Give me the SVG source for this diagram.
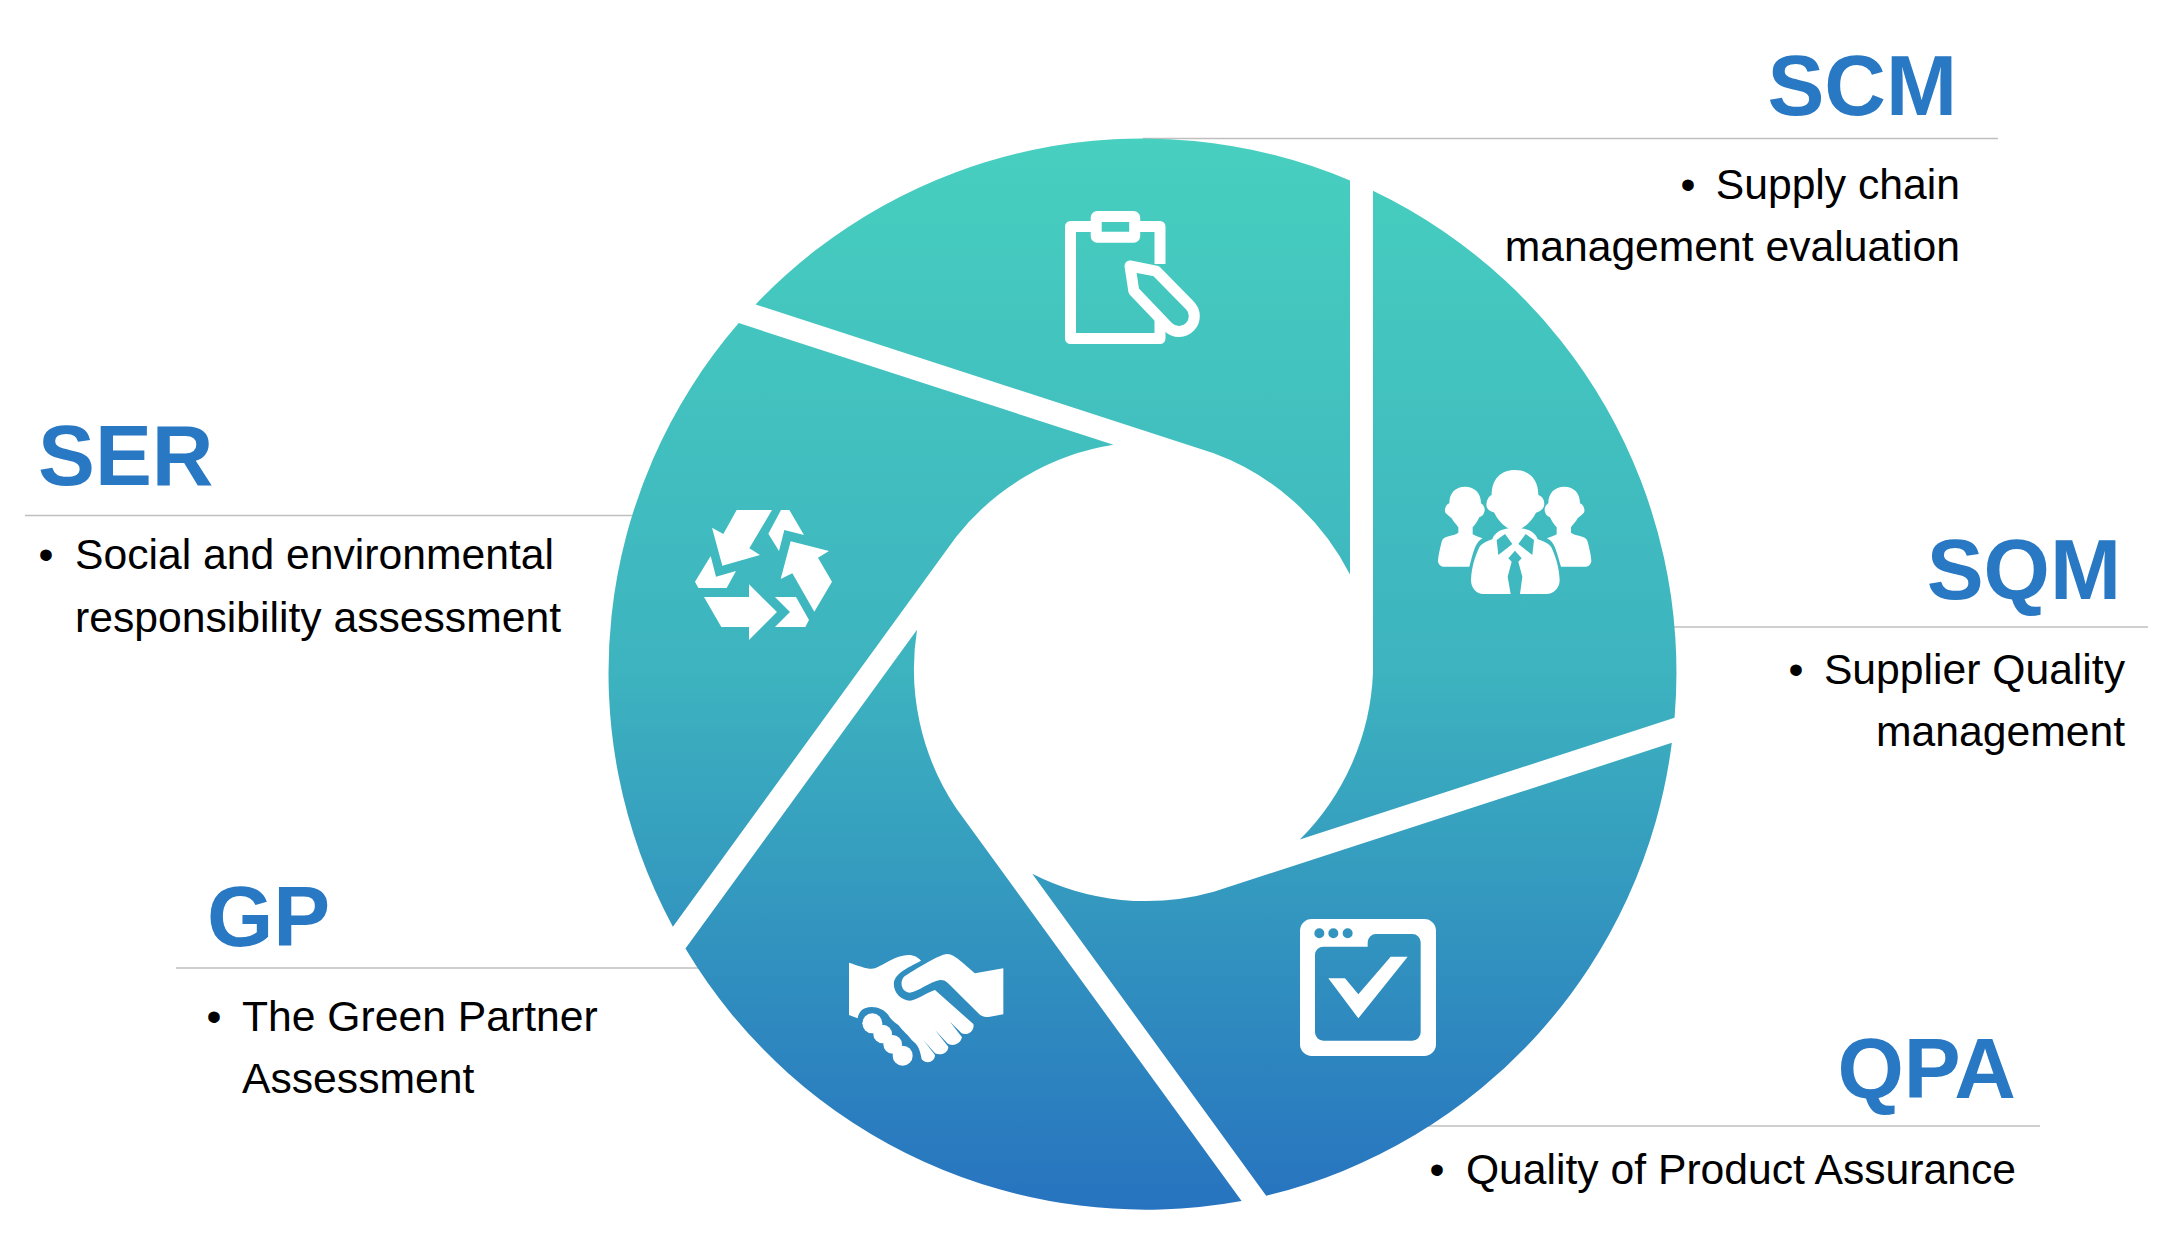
<svg xmlns="http://www.w3.org/2000/svg" width="2170" height="1255" viewBox="0 0 2170 1255">
<style>
.h{font:bold 85.33px "Liberation Sans",Arial,sans-serif;fill:#2878c3}
.b{font:42.67px "Liberation Sans",Arial,sans-serif;fill:#000}
.e{text-anchor:end}
.m{text-anchor:middle}
.rule{stroke:#bfbfbf;stroke-width:1.5;fill:none}
.blade{fill:url(#g)}
.ic{fill:#fff}
.ln{fill:none;stroke:#fff;stroke-width:11;stroke-linejoin:round}
</style>
<defs>
<linearGradient id="g" gradientUnits="userSpaceOnUse" x1="0" y1="138" x2="0" y2="1209">
<stop offset="0" stop-color="#47cfbf"/><stop offset=".5" stop-color="#3db3bf"/><stop offset="1" stop-color="#2773bf"/>
</linearGradient>
</defs>
<rect width="2170" height="1255" fill="#fff"/>
<g id="connectors">
<path class="rule" d="M1143 138.500H1998"/>
<path class="rule" d="M1660 627H2148"/>
<path class="rule" d="M1400 1126H2040"/>
<path class="rule" d="M176 968H720"/>
<path class="rule" d="M25 515.500H650"/>
</g>
<g id="disc">
<path class="blade" id="blade-top" d="M1350 180.500V574.500A250 250 0 0 0 1213.730 453.280L755.600 304.420A534 534 0 0 1 1350 180.500Z"/>
<path class="blade" id="blade-right" d="M1373 190.800V672.500A250 250 0 0 1 1299.820 839.560L1674.540 717.800A534 534 0 0 0 1373 190.800Z"/>
<path class="blade" id="blade-bottom-right" d="M1671.860 742.860L1213.730 891.720A250 250 0 0 1 1032.240 873.750L1266.200 1195.800A536 536 0 0 0 1671.860 742.860Z"/>
<path class="blade" id="blade-bottom-left" d="M1241.600 1201L956.020 807.990A250 250 0 0 1 917.020 629.810L685.440 948.580A536 536 0 0 0 1241.600 1201Z"/>
<path class="blade" id="blade-left" d="M672.880 926.720L956.020 537.010A250 250 0 0 1 1113.420 444.870L738.700 323.120A534 534 0 0 0 672.880 926.720Z"/>
</g>
<g id="icon-clipboard">
<path class="ln" d="M1160 264V226.500H1135M1096 226.500H1070.500V338.500H1160V318"/>
<rect class="ln" x="1096.200" y="216.500" width="38.500" height="20.700" rx="1"/>
<path class="ln" d="M1130 266L1156.200 271.100L1189.600 305.100A15.300 15.300 0 0 1 1168.400 327.200L1133.800 291Z"/>
</g>
<g id="icon-people" transform="translate(1400 440) scale(.33333)">
<path class="ic" d="M345 90C300 90 275 120 275 165C262 170 255 195 262 205C268 215 278 215 283 218C292 238 310 258 330 268L360 268C380 258 398 238 408 218C415 215 428 212 432 198C436 180 425 168 415 165C415 120 390 90 345 90Z"/>
<path class="ic" fill-rule="evenodd" d="M213 420C215 380 225 350 238 322C245 310 265 302 277 298C280 285 295 270 318 266L345 262L372 266C395 270 410 285 413 298C425 302 447 310 454 322C467 350 477 380 479 420C479 445 460 462 440 462H250C230 462 213 445 213 420ZM290 300L315 282L337 312L295 345ZM402 300L377 282L355 312L397 345ZM325 355L345 332L365 355L355 365L367 410L360 462H332L323 410L335 365Z"/>
<path class="ic" d="M195 140C165 140 148 160 148 190C135 195 130 215 140 222C146 228 150 230 155 235C160 245 170 255 175 262V278C160 290 130 285 125 305C120 325 115 345 114 362C114 372 122 380 132 380H208C215 355 222 320 235 305C240 300 245 297 248 295C235 290 225 288 218 283V262C225 255 232 245 238 232C245 228 250 226 252 218C258 205 250 195 243 190C243 160 225 140 195 140Z"/>
<path class="ic" d="M493 140C523 140 540 160 540 190C553 195 558 215 548 222C542 228 538 230 533 235C528 245 518 255 513 262V278C528 290 558 285 563 305C568 325 573 345 574 362C574 372 566 380 556 380H483C475 355 468 320 455 305C450 300 445 297 440 295C453 290 463 288 470 283V262C463 255 456 245 450 232C443 228 438 226 436 218C430 205 438 195 445 190C445 160 463 140 493 140Z"/>
</g>
<g id="icon-recycle" class="ic" transform="translate(680 490) scale(.33333)">
<polygon points="170,60 276,60 208,175 240,195 127,227 96,113 130,132"/>
<polygon points="303,60 328,60 372,135 313,120 297,183 265,131"/>
<polygon points="332,154 447,183 414,203 456,275 403,365 337,250 302,267"/>
<polygon points="72,321 207,321 207,283 291,366 207,450 207,411 124,411"/>
<polygon points="285,321 348,321 387,390 376,411 285,411 330,366"/>
<polygon points="92,198 108,260 168,243 140,294 55,294 45,275"/>
</g>
<g id="icon-handshake" class="ic" transform="translate(840 950) scale(.33333)">
<path d="M27 38C60 48 85 60 105 55C135 42 170 15 205 15C222 15 235 22 243 32C215 48 170 65 162 95C158 125 180 150 210 152C235 148 265 125 285 120L400 222C405 240 385 258 365 250L330 215L366 262C360 285 335 290 322 280L285 240L325 290C325 310 300 318 285 310L250 270L285 315C285 335 260 345 245 328C240 300 235 285 215 270C205 255 190 245 175 225C160 215 150 205 145 195C130 175 100 165 75 175C60 180 55 195 53 205L27 195Z"/>
<path d="M490 55L405 70C380 50 345 12 322 12C300 12 240 50 195 78C178 90 182 125 208 128C235 125 270 95 300 90C315 88 325 100 335 110L415 190C425 200 435 203 450 200L490 193Z"/>
<circle cx="97" cy="220" r="30"/><circle cx="128" cy="252" r="28"/><circle cx="158" cy="283" r="28"/><circle cx="188" cy="317" r="30"/>
</g>
<g id="icon-window" class="ic" transform="translate(1300 910) scale(.33333)">
<path fill-rule="evenodd" d="M35 27H373A35 35 0 0 1 408 62V403A35 35 0 0 1 373 438H35A35 35 0 0 1 0 403V62A35 35 0 0 1 35 27ZM70 110A25 25 0 0 0 45 135V367A25 25 0 0 0 70 392H337A25 25 0 0 0 362 367V97A25 25 0 0 0 337 72H228A25 25 0 0 0 203 97V110ZM43 70A15 15 0 1 0 73 70A15 15 0 1 0 43 70ZM85 70A15 15 0 1 0 115 70A15 15 0 1 0 85 70ZM128 70A15 15 0 1 0 158 70A15 15 0 1 0 128 70ZM85 205H135L175 253L272 140H323L175 325Z"/>
</g>
<g id="node-scm">
<text class="h e" x="1957" y="115">SCM</text>
<text class="b m" x="1688" y="199">•</text>
<text class="b e" x="1960" y="199">Supply chain</text>
<text class="b e" x="1960" y="261">management evaluation</text>
</g>
<g id="node-sqm">
<text class="h e" x="2121" y="599">SQM</text>
<text class="b m" x="1796" y="684">•</text>
<text class="b e" x="2125" y="684">Supplier Quality</text>
<text class="b e" x="2125" y="746">management</text>
</g>
<g id="node-qpa">
<text class="h e" x="2016" y="1098">QPA</text>
<text class="b m" x="1437" y="1184">•</text>
<text class="b e" x="2016" y="1184">Quality of Product Assurance</text>
</g>
<g id="node-gp">
<text class="h" x="207" y="946">GP</text>
<text class="b m" x="214" y="1031">•</text>
<text class="b" x="242" y="1031">The Green Partner</text>
<text class="b" x="242" y="1093">Assessment</text>
</g>
<g id="node-ser">
<text class="h" x="38" y="485">SER</text>
<text class="b m" x="46" y="569">•</text>
<text class="b" x="75" y="569">Social and environmental</text>
<text class="b" x="75" y="632">responsibility assessment</text>
</g>
</svg>
